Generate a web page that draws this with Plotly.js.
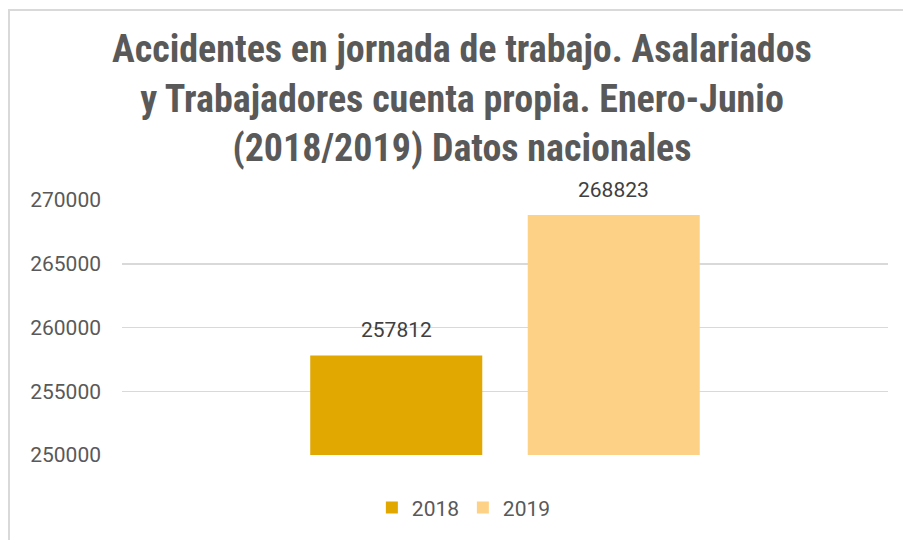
<!DOCTYPE html>
<html>
<head>
<meta charset="utf-8">
<script src="https://cdn.plot.ly/plotly-3.0.1.min.js"></script>
<style>
html,body{margin:0;padding:0;overflow:hidden;background:#fff;}
#frame{position:absolute;left:8px;top:9px;width:1200px;height:1200px;border:2px solid #d9d9d9;pointer-events:none;z-index:5;}
#chart{position:absolute;left:0;top:0;width:903px;height:540px;}
</style>
</head>
<body>
<div id="chart"></div>
<div id="frame"></div>
<script>
const years = ['2018', '2019'];
const values = [257812, 268823];
const colors = ['#E0A800', '#FED286'];
const yTicks = [250000, 255000, 260000, 265000, 270000];
const titleText = 'Accidentes en jornada de trabajo. Asalariados<br>y Trabajadores cuenta propia. Enero-Junio<br>(2018/2019) Datos nacionales';

const traces = years.map((yr, i) => ({
  type: 'bar',
  name: yr,
  x: [yr],
  y: [values[i]],
  base: 0,
  marker: {color: colors[i]},
  hoverinfo: 'skip'
}));

// category index i corresponds to years[i]
const annotations = years.map((yr, i) => ({
  x: i, y: values[i], xref: 'x', yref: 'y',
  text: String(values[i]),
  showarrow: false, yanchor: 'bottom', yshift: 11,
  font: {family: 'Roboto, sans-serif', size: 21, color: '#404040'}
}));

const layout = {
  width: 903, height: 540,
  margin: {l: 122, r: 15, t: 200, b: 83},
  paper_bgcolor: '#ffffff', plot_bgcolor: '#ffffff',
  barmode: 'overlay',
  bargap: 0.209,
  title: {
    text: titleText,
    x: 0.5116, xref: 'container', xanchor: 'center',
    y: 0.885, yref: 'container', yanchor: 'top',
    font: {family: '"Liberation Sans Narrow", "Arial Narrow", "Roboto Condensed", sans-serif', size: 38, color: '#595959', weight: 'bold'}
  },
  xaxis: {
    type: 'category', range: [-1.261, 2.261],
    showticklabels: false, showgrid: false, zeroline: false, showline: false, ticks: ''
  },
  yaxis: {
    range: [250000, 270000],
    tickvals: yTicks, ticktext: yTicks.map(String),
    showgrid: true, gridcolor: '#d9d9d9', gridwidth: 1.5,
    zeroline: false, showline: false, ticks: '',
    ticklabelstandoff: 20,
    tickfont: {family: 'Roboto, sans-serif', size: 21, color: '#595959'}
  },
  showlegend: true,
  legend: {
    orientation: 'h', x: 0.445, xanchor: 'center', y: -0.207, yanchor: 'middle',
    font: {family: 'Roboto, sans-serif', size: 21, color: '#595959'},
    itemwidth: 30, traceorder: 'normal',
    entrywidth: 46, entrywidthmode: 'pixels'
  },
  annotations: annotations
};

Plotly.newPlot('chart', traces, layout, {displayModeBar: false, staticPlot: true});
</script>
</body>
</html>
